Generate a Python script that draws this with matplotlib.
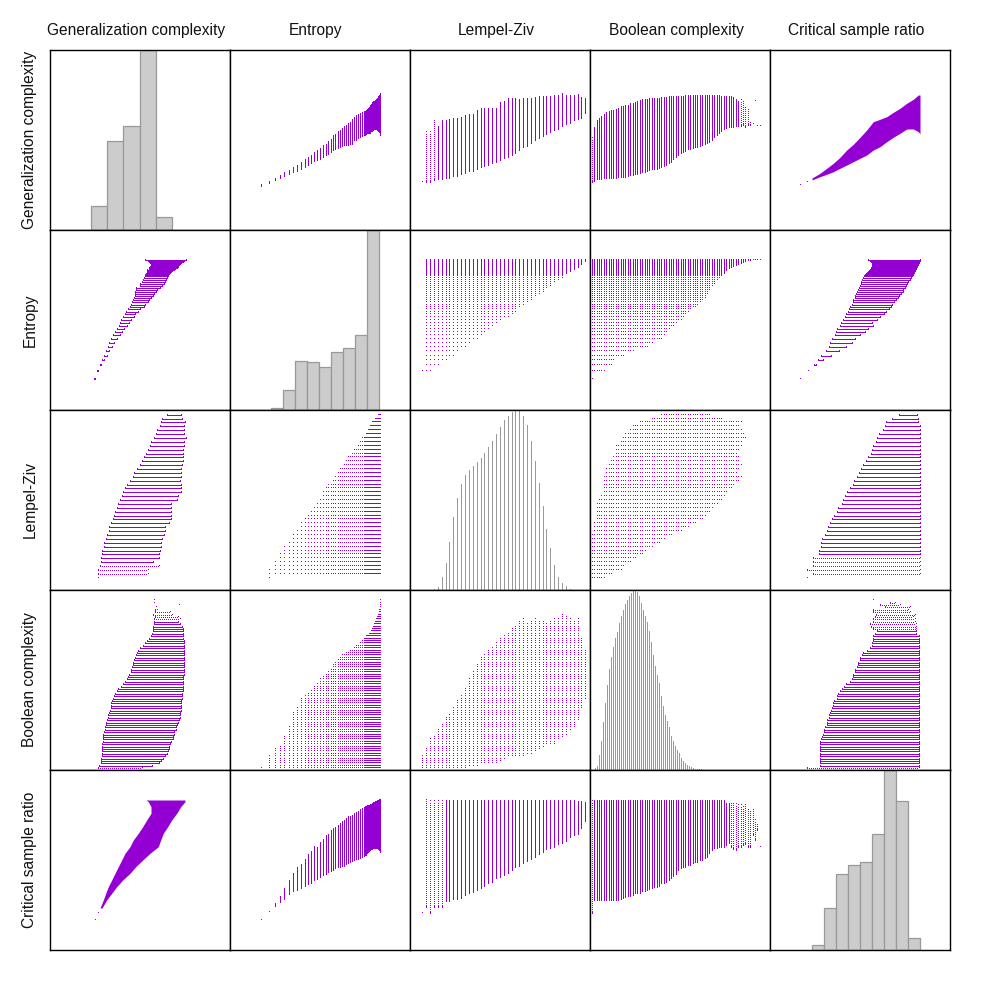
import numpy as np
import matplotlib
matplotlib.use("Agg")
import matplotlib.pyplot as plt

plt.rcParams['font.family'] = ['Liberation Sans', 'DejaVu Sans']

# ---------------------------------------------------------------- variables
var_names = ["Generalization complexity", "Entropy", "Lempel-Ziv",
             "Boolean complexity", "Critical sample ratio"]
# axis ranges (no tick labels are shown in the chart)
var_limits = [(0, 180), (0, 180), (-3.17, 43.22), (-0.71, 74.29), (0, 180)]

# discrete levels
ent_levels = [30.7, 38.7, 44.7, 49.7, 54.3, 58.7, 62.7, 66.7, 70.7, 74.7,
              78.0, 80.7, 83.7, 86.7, 89.7, 92.7, 95.7, 98.3, 100.7, 103.0,
              105.3, 107.7, 109.7, 111.7, 113.7, 115.7, 117.7, 119.7, 121.7, 123.7,
              125.7, 127.7, 129.7, 131.7, 133.7, 135, 136, 137, 138, 139,
              140, 141, 142, 143, 144, 145, 146, 147, 148, 149, 150]
lz_levels = list(range(43))
bc_levels = list(range(71))

# ---------------------------------------------------------------- GC vs entropy
gc_by_ent_lo = [44, 47, 50, 52, 54, 56, 58, 59, 61, 63, 65, 67, 69, 70, 71, 73, 75, 76, 78, 80,
                81, 82, 83, 84, 85, 85, 85, 86, 86, 90, 90, 92, 93, 94, 95, 95, 96, 96.7, 97, 97,
                97, 98.7, 99, 100, 101, 101, 101, 100, 99, 98, 95]
gc_by_ent_hi = [44.7, 48, 51, 54, 56.7, 59, 62, 64, 67, 70, 72, 74, 77, 79, 81, 84, 85, 88, 90, 94,
                95, 98, 99, 101, 103, 104, 106, 107, 110, 112, 114, 115, 116, 117, 118, 118, 119, 120,
                121, 122, 124, 125, 127, 128, 128, 129, 130, 131, 133, 134, 136]

# ---------------------------------------------------------------- GC vs Lempel-Ziv
gc_by_lz_lo = [47.7, 47.7, 47.7, 50, 51, 51, 52.3, 52.3, 54, 54, 56, 57.3, 58.7, 59.3, 60.7,
               62.7, 64, 65.3, 66.7, 68.3, 70, 71.7, 73.3, 75, 77.3, 80, 83.3, 84, 87.3, 90,
               92, 94, 96, 98, 100, 101.3, 104, 106, 107.3, 110, 111.3, 111.7, 117.3]
gc_by_lz_hi = [47.7, 98.3, 98.3, 109.3, 103.3, 109.3, 109.3, 110, 111, 111, 112.3, 114, 114.7,
               115, 119.3, 120.7, 120.7, 120.7, 121, 121, 126.7, 128.3, 130.7, 130.7, 130.7, 130,
               130.7, 130.7, 130.7, 131.7, 132.7, 132.7, 132.7, 133.3, 134, 134, 135.7, 134, 134,
               134, 135, 131.7, 130.7]
gc_by_lz_sparse = [1, 2, 3]

# ---------------------------------------------------------------- GC vs Boolean complexity
gc_by_bc_lo = [48.3, 49.3, 50.7, 51, 51.3, 51.7, 51.7, 52, 52, 52.3, 52.3, 52.7, 52.7, 53.3, 53.3,
               54, 54.7, 55, 55.7, 56, 56.7, 57.7, 58.3, 59.3, 60, 60.7, 61, 61.3, 62, 63.3,
               64, 65, 66.7, 68.3, 70.7, 73.3, 75, 77.3, 78.3, 79.3, 80.7, 81.3, 82, 82.7, 83.3,
               84, 85, 86, 86.7, 88, 90, 92.7, 95, 97.3, 99.3, 100.7, 102, 102.7, 103, 103.3,
               103.7, 104, 104, 105, 103, 105, 105, 106, 129, 104, 104]
gc_by_bc_hi = [91.7, 101.7, 109.3, 111, 113.3, 115.3, 117, 118, 118.7, 119, 120, 121.3, 122.7, 123.3,
               123.7, 124.3, 125.7, 126.3, 127.3, 128.3, 129.3, 129.7, 130, 130.3, 130.7, 130.7, 131,
               131, 131.3, 131.7, 131.7, 132.3, 132.7, 132.7, 133, 133, 133, 133.3, 133.3, 133.7, 134,
               134, 134, 134.3, 134.3, 134, 134, 134, 134, 134, 134, 134, 134, 133.7, 133.3, 133.3,
               133.3, 133.3, 132.7, 131.7, 130, 128.3, 130, 128, 122, 120, 107, 106, 129, 104, 104]
gc_by_bc_sparse = [0, 62, 63, 64, 65, 66, 67, 68, 69, 70]

# ---------------------------------------------------------------- GC vs critical sample ratio
csr_knots = [42, 50, 56.7, 63.3, 70, 76.7, 83.3, 90, 96.7, 103.3, 110, 116.7, 123.3, 130,
             136.7, 143.3, 148.3, 150]
gc_upper_by_csr = [52, 56.7, 61.7, 66.7, 72.7, 80, 85.7, 92.7, 100, 108.3, 110.7, 113.3, 117.7,
                   121.7, 126.7, 130.7, 135, 135]
gc_lower_by_csr = [50, 53.3, 55.7, 58.3, 61.7, 65, 68.3, 71.7, 75, 80, 83.3, 88.3, 92.7, 96.7,
                   101, 101, 98.3, 96]
csr_tail = [30, 37.3]
gc_tail = [45, 47.7]

# ---------------------------------------------------------------- entropy vs Lempel-Ziv (grid)
ent_min_by_lz = [38.7, 38.7, 38.7, 44.7, 44.7, 49.7, 49.7, 54.3, 54.3, 58.7, 62.7, 62.7, 66.7,
                 70.7, 70.7, 74.7, 78.0, 80.7, 83.7, 86.7, 89.7, 92.7, 92.7, 95.7, 98.3, 103.0,
                 105.3, 107.7, 109.7, 113.7, 115.7, 117.7, 121.7, 123.7, 127.7, 129.7, 131.7,
                 136, 138, 140, 142, 145, 148]
ent_max_by_lz = [38.7] + [150] * 42

# ---------------------------------------------------------------- entropy vs Boolean complexity (grid)
bc_max_by_ent = [0, 5, 8, 9, 13, 17, 23, 25, 29, 30, 31, 32, 34, 35, 37, 38, 39, 40, 41, 43,
                 44, 45, 46, 47, 47, 48, 48, 49, 49, 50, 51, 51, 52, 53, 54, 54, 55, 55, 55, 56,
                 56, 57, 58, 59, 60, 61, 62, 63, 64, 66, 70]

# ---------------------------------------------------------------- entropy vs critical sample ratio
csr_by_ent_lo = [30.3, 37.9, 43.8, 48.3, 50.7, 55.9, 58.6, 60.3, 62, 64.5, 66.2, 67, 69.7, 70.7,
                 73.4, 74.8, 75.9, 77.6, 79.3, 80.3, 81.7, 82.8, 83.4, 84.5, 84.5, 86.2, 86.9, 88,
                 89, 89.7, 90.7, 91.4, 92, 93.1, 94.1, 94.8, 95.5, 96.6, 97.6, 99, 100, 100.7, 101,
                 101.7, 102, 102.4, 102.4, 101.7, 101, 100, 98.3]
csr_by_ent_hi = [30.3, 37.9, 45.9, 52.8, 61, 69, 76, 82, 85, 89.7, 94.8, 98, 103.4, 101.7, 107,
                 110, 113.8, 115.5, 119, 120.7, 122.4, 124, 125.9, 127.6, 129.3, 131, 132.8, 133.4,
                 134.5, 136.2, 137.2, 138, 139.7, 141.4, 142.4, 143.1, 143.4, 143.8, 144.1, 144.5,
                 144.8, 145.5, 145.9, 146.6, 146.9, 147.6, 147.9, 148.6, 149.3, 149.7, 150]

# ---------------------------------------------------------------- Lempel-Ziv vs Boolean complexity (grid)
bc_min_by_lz = [0, 0, 0, 0, 0, 0, 0, 0, 0, 0, 0, 0, 1, 1, 1, 2, 2, 2, 2, 2, 3, 4, 5, 5, 5, 5,
                5, 6, 6, 7, 8, 9, 10, 10, 10, 12, 13, 14, 16, 17, 20, 25, 29]
bc_max_by_lz = [5, 8, 12, 13, 16, 18, 21, 22, 25, 28, 30, 33, 37, 40, 43, 46, 47, 49, 50, 52, 54,
                55, 56, 58, 59, 61, 62, 60, 61, 62, 61, 61, 60, 61, 62, 62, 64, 63, 62, 61, 62,
                54, 49]

# ---------------------------------------------------------------- Lempel-Ziv vs critical sample ratio
csr_by_lz_lo = [37.3, 42.7, 37.3, 42.7, 42.7, 43.3, 48.7, 48.7, 50.7, 50.7, 52.3, 55, 56.7, 58.3,
                60, 61.7, 64.3, 66.7, 68.3, 71.7, 73.3, 75, 76.7, 80, 83.3, 84.3, 86.7, 89.3, 90.7,
                93.3, 96, 98.3, 100.7, 101.7, 103.3, 106, 107.3, 109.3, 112.7, 115, 116, 121.7, 129.3]
csr_by_lz_hi = [37.3, 150, 149.5, 149.5, 149.5, 149.5, 149.5, 149.5, 149.5, 149.5, 149.5, 149.5,
                149.5, 149.5, 149.5, 149.5, 149.5, 149.5, 149.5, 149.5, 149.5, 149.5, 149.5, 149.5,
                149.5, 149.5, 149.5, 149.5, 149.5, 149.5, 149.5, 149.5, 149.5, 149.5, 149.5, 149.5,
                149.5, 149.5, 149.5, 149.5, 148.3, 148.3, 146.7]
csr_by_lz_sparse = [1, 2, 3, 4, 5]

# ---------------------------------------------------------------- Boolean complexity vs critical sample ratio
csr_by_bc_lo = [36.7, 50, 50, 50, 50, 50, 50, 50, 50, 50, 50, 50, 50.7, 52.3, 53.3, 54.3, 54.3, 55,
                56.7, 57.3, 57.3, 58.7, 59.3, 60, 60.7, 61.7, 62.7, 63.3, 64, 66.7, 67, 67.7, 70,
                71.7, 74, 76, 80, 81.7, 83.3, 83.3, 85, 85, 86.7, 88.3, 88.3, 90, 90, 91.7, 93.3,
                96.7, 100, 101.7, 101.7, 102.7, 103.3, 103.3, 105, 106.7, 103, 101, 100, 103, 103,
                105, 106, 103, 103, 115, 110, 120, 103]
csr_by_bc_hi = [149.3] * 56 + [146, 146, 146, 146, 146, 145, 145, 143, 145, 140, 138, 140, 130,
                               125, 103]
csr_by_bc_sparse = [0, 58, 59, 60, 61, 62, 63, 64, 65, 66, 67, 68, 69, 70]

# ---------------------------------------------------------------- histograms (diagonal)
gc_hist_edges = [41.3, 57.0, 73.5, 90.0, 106.3, 122.5]
gc_hist_counts = [24, 88, 103, 178.6, 13]
ent_hist_edges = [41.3, 53.2, 65.2, 77.1, 89.0, 101.0, 112.9, 124.8, 136.7, 148.7]
ent_hist_counts = [2, 20, 49, 48, 43, 58, 62, 74, 178.6]
lz_hist_levels = list(range(3, 39))
lz_hist_counts = [1, 3.3, 13.3, 27.3, 47.3, 72.3, 91.3, 105.3, 114.3, 119.3, 122.7, 127.3, 131.3,
                  136.3, 142, 148, 155.3, 162, 168.3, 172.7, 176.7, 178.7, 178.7, 172.7, 164,
                  148.3, 128.3, 106, 83, 61, 42, 25.3, 13.3, 7.3, 3.7, 1.3]
bc_hist_bins = list(range(56))
bc_hist_counts = [1.7, 4, 15, 29, 48, 66, 84, 100, 112, 122, 131, 137, 146, 153, 159, 165, 169,
                  173, 176, 178, 178.5, 176.5, 173, 166, 159, 153, 147, 138, 127, 114, 103, 94,
                  86, 73, 63, 55, 49, 43, 34, 29, 24, 20, 17, 12, 9.3, 6.7, 5.3, 4, 2.7, 2,
                  1.3, 1, 0.7, 0.5, 0.4, 0.3]
bc_hist_limits = (-2.85, 87.15)
csr_hist_edges = [42, 54, 66, 78, 90, 102, 114, 126, 138, 150]
csr_hist_counts = [5.3, 41.3, 75, 84, 87, 115, 178.7, 148, 12]

# ---------------------------------------------------------------- style
PURPLE = '#9400D3'
HIST_FILL = '#CCCCCC'
HIST_EDGE = '#999999'
LW = 0.72  # one pixel at 100 dpi

level_specs = {
    (1, 0): (ent_levels, gc_by_ent_lo, gc_by_ent_hi, []),
    (2, 0): (lz_levels, gc_by_lz_lo, gc_by_lz_hi, gc_by_lz_sparse),
    (3, 0): (bc_levels, gc_by_bc_lo, gc_by_bc_hi, gc_by_bc_sparse),
    (1, 4): (ent_levels, csr_by_ent_lo, csr_by_ent_hi, []),
    (2, 4): (lz_levels, csr_by_lz_lo, csr_by_lz_hi, csr_by_lz_sparse),
    (3, 4): (bc_levels, csr_by_bc_lo, csr_by_bc_hi, csr_by_bc_sparse),
}

ent_arr = np.asarray(ent_levels, float)
bc_arr = np.asarray(bc_levels, float)


def grid_ent_lz():
    e, l = [], []
    for k, lz in enumerate(lz_levels):
        sel = ent_arr[(ent_arr >= ent_min_by_lz[k] - 0.05) & (ent_arr <= ent_max_by_lz[k] + 0.05)]
        e.extend(sel)
        l.extend([lz] * len(sel))
    return np.array(e), np.array(l, float)


def grid_ent_bc():
    e, b = [], []
    for i, ev in enumerate(ent_levels):
        sel = bc_arr[bc_arr <= bc_max_by_ent[i]]
        b.extend(sel)
        e.extend([ev] * len(sel))
    return np.array(e), np.array(b)


def grid_lz_bc():
    l, b = [], []
    for k, lz in enumerate(lz_levels):
        sel = bc_arr[(bc_arr >= bc_min_by_lz[k]) & (bc_arr <= bc_max_by_lz[k])]
        b.extend(sel)
        l.extend([lz] * len(sel))
    return np.array(l, float), np.array(b)


grid_specs = {(1, 2): grid_ent_lz(), (1, 3): grid_ent_bc(), (2, 3): grid_lz_bc()}


def draw_levels(ax, levels, lo, hi, level_on_x, sparse):
    levels = np.asarray(levels, float)
    lo = np.asarray(lo, float)
    hi = np.asarray(hi, float)
    sp = np.isin(np.arange(len(levels)), sparse)
    for mask, ls in ((~sp, 'solid'), (sp, (0, (1, 2)))):
        if not mask.any():
            continue
        if level_on_x:
            ax.vlines(levels[mask], lo[mask], hi[mask], colors=PURPLE, linewidth=LW,
                      linestyles=[ls], antialiased=False)
        else:
            ax.hlines(levels[mask], lo[mask], hi[mask], colors=PURPLE, linewidth=LW,
                      linestyles=[ls], antialiased=False)
    if level_on_x:
        ax.plot(np.r_[levels, levels], np.r_[lo, hi], ',', color=PURPLE)
    else:
        ax.plot(np.r_[lo, hi], np.r_[levels, levels], ',', color=PURPLE)


fig = plt.figure(figsize=(10, 10), dpi=100)
for r in range(5):
    for c in range(5):
        ax = fig.add_axes([(50 + 180 * c) / 1000, 1 - (50 + 180 * (r + 1)) / 1000, 0.18, 0.18])
        ax.set_xlim(var_limits[c])
        ax.set_ylim(var_limits[r])
        ax.set_xticks([])
        ax.set_yticks([])
        for s in ax.spines.values():
            s.set_linewidth(1.0)
            s.set_color('black')
            s.set_zorder(5)
        if r == c:
            if r == 0:
                ax.bar(gc_hist_edges[:-1], gc_hist_counts, width=np.diff(gc_hist_edges),
                       align='edge', color=HIST_FILL, edgecolor=HIST_EDGE, linewidth=0.9)
                ax.set_ylim(0, max(gc_hist_counts))
            elif r == 1:
                ax.bar(ent_hist_edges[:-1], ent_hist_counts, width=np.diff(ent_hist_edges),
                       align='edge', color=HIST_FILL, edgecolor=HIST_EDGE, linewidth=0.9)
                ax.set_ylim(0, max(ent_hist_counts))
            elif r == 2:
                ax.vlines(lz_hist_levels, 0, lz_hist_counts, colors=HIST_EDGE, linewidth=LW,
                          antialiased=False)
                ax.set_ylim(0, max(lz_hist_counts))
            elif r == 3:
                ax.bar(bc_hist_bins, bc_hist_counts, width=0.72, color=HIST_EDGE, linewidth=0)
                ax.set_xlim(bc_hist_limits)
                ax.set_ylim(0, max(bc_hist_counts))
            else:
                ax.bar(csr_hist_edges[:-1], csr_hist_counts, width=np.diff(csr_hist_edges),
                       align='edge', color=HIST_FILL, edgecolor=HIST_EDGE, linewidth=0.9)
                ax.set_ylim(0, max(csr_hist_counts))
            continue
        xv, yv = c, r
        if (xv, yv) in level_specs:
            lev, lo, hi, sp = level_specs[(xv, yv)]
            draw_levels(ax, lev, lo, hi, True, sp)
        elif (yv, xv) in level_specs:
            lev, lo, hi, sp = level_specs[(yv, xv)]
            draw_levels(ax, lev, lo, hi, False, sp)
        elif (xv, yv) in grid_specs:
            a, b = grid_specs[(xv, yv)]
            ax.plot(a, b, ',', color=PURPLE)
        elif (yv, xv) in grid_specs:
            a, b = grid_specs[(yv, xv)]
            ax.plot(b, a, ',', color=PURPLE)
        elif (xv, yv) == (4, 0):
            ax.fill_between(csr_knots, gc_lower_by_csr, gc_upper_by_csr, color=PURPLE, lw=0)
            ax.plot(csr_tail, gc_tail, ',', color=PURPLE)
        elif (xv, yv) == (0, 4):
            ax.fill_betweenx(csr_knots, gc_lower_by_csr, gc_upper_by_csr, color=PURPLE, lw=0)
            ax.plot(gc_tail, csr_tail, ',', color=PURPLE)

FS = 11.2
for c, name in enumerate(var_names):
    fig.text((50 + 180 * c + 86) / 1000, 1 - 31 / 1000, name, ha='center', va='center',
             fontsize=FS, color='#111111')
for r, name in enumerate(var_names):
    fig.text(30 / 1000, 1 - (50 + 180 * r + 90) / 1000, name, ha='center', va='center',
             rotation=90, fontsize=FS, color='#111111')

fig.savefig('out.png', dpi=100, facecolor='white')
